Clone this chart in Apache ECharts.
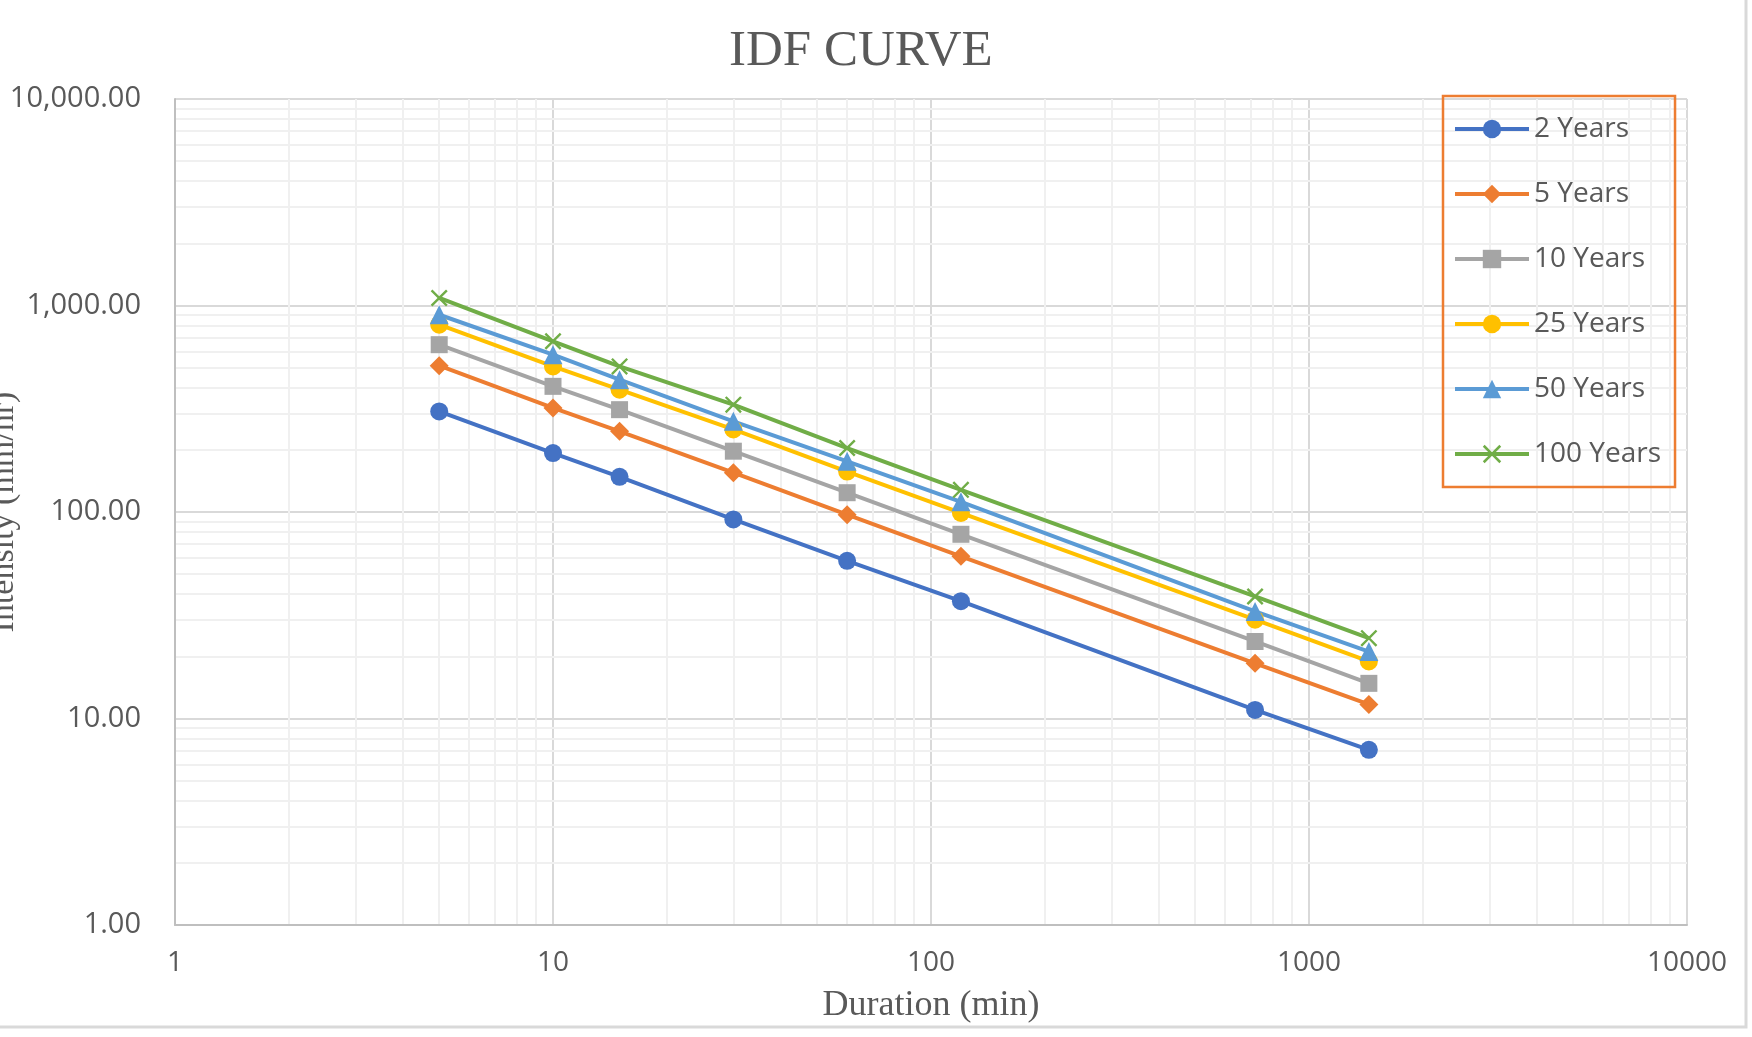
<!DOCTYPE html>
<html>
<head>
<meta charset="utf-8">
<script src="https://cdn.jsdelivr.net/npm/echarts@6/dist/echarts.min.js"></script>
<style>
  html, body { margin: 0; padding: 0; background: #fff; }
  #chart { width: 1752px; height: 1037px; }
</style>
</head>
<body>
<div id="chart"></div>
<script>
var durations = [5, 10, 15, 30, 60, 120, 720, 1440];
var years2 = [307, 193, 148, 92, 58, 37, 11.0, 7.05];
var years5 = [511, 319, 246, 155, 97, 61, 18.5, 11.7];
var years10 = [646, 406, 313, 197, 124, 78, 23.6, 14.8];
var years25 = [807, 507, 391, 251, 157, 99, 30.1, 18.9];
var years50 = [902, 578, 437, 275, 176, 112, 33, 21.1];
var years100 = [1088, 671, 507, 331, 204, 128, 39, 24.5];

var seriesNames = ["2 Years", "5 Years", "10 Years", "25 Years", "50 Years", "100 Years"];
var xTickLabels = ["1", "10", "100", "1000", "10000"];
var yTickLabels = ["1.00", "10.00", "100.00", "1,000.00", "10,000.00"];
var minorGrid = [2, 3, 4, 5, 6, 7, 8, 9, 20, 30, 40, 50, 60, 70, 80, 90,
  200, 300, 400, 500, 600, 700, 800, 900, 2000, 3000, 4000, 5000, 6000, 7000, 8000, 9000];

var colors = ["#4472C4", "#ED7D31", "#A5A5A5", "#FFC000", "#5B9BD5", "#70AD47"];
var crossPath = "path://M1,0L5,4L9,0L10,1L6,5L10,9L9,10L5,6L1,10L0,9L4,5L0,1Z";
var symbols = ["circle", "diamond", "rect", "circle", "triangle", crossPath];
var sizes = [18, 19, 17, 18, 19, 17];
var allValues = [years2, years5, years10, years25, years50, years100];

var myChart = echarts.init(document.getElementById("chart"));

function pairs(ys) {
  return durations.map(function (d, i) { return [d, ys[i]]; });
}

var series = [
  {
    name: "minor",
    type: "line",
    data: [],
    silent: true,
    z: 0,
    markLine: {
      silent: true,
      z: 0,
      symbol: ["none", "none"],
      label: { show: false },
      lineStyle: { color: "#F0F0F0", width: 2, type: "solid" },
      data: minorGrid.map(function (v) { return { xAxis: v }; })
        .concat(minorGrid.map(function (v) { return { yAxis: v }; })),
    },
  },
];

seriesNames.forEach(function (name, i) {
  series.push({
    name: name,
    type: "line",
    data: pairs(allValues[i]),
    symbol: symbols[i],
    symbolSize: sizes[i],
    showAllSymbol: true,
    z: 3,
    lineStyle: { color: colors[i], width: 4 },
    itemStyle: { color: colors[i] },
  });
});

var option = {
  animation: false,
  color: colors,
  title: {
    text: "IDF CURVE",
    left: 724,
    top: 21,
    textStyle: {
      fontFamily: "Liberation Serif",
      fontSize: 51,
      fontWeight: "normal",
      color: "#595959",
    },
  },
  legend: {
    data: seriesNames,
    orient: "vertical",
    left: 1443,
    top: 96,
    z: 6,
    padding: [19, 14, 19, 10],
    borderColor: "#ED7D31",
    borderWidth: 2.5,
    itemWidth: 74,
    itemHeight: 23,
    itemGap: 37,
    lineStyle: { width: 4 },
    textStyle: {
      fontFamily: "Open Sans",
      fontSize: 28,
      lineHeight: 28,
      color: "#595959",
    },
  },
  grid: {
    left: 175,
    right: 65,
    top: 99,
    bottom: 112,
    outerBoundsMode: "none",
  },
  xAxis: {
    type: "log",
    logBase: 10,
    min: 1,
    max: 10000,
    name: "Duration (min)",
    nameLocation: "middle",
    nameGap: 63,
    nameTextStyle: {
      fontFamily: "Liberation Serif",
      fontSize: 36,
      color: "#595959",
    },
    axisLine: { lineStyle: { color: "#BFBFBF", width: 2 } },
    axisTick: { show: false },
    axisLabel: {
      margin: 24,
      fontFamily: "Open Sans",
      fontSize: 28,
      color: "#595959",
      formatter: function (v, i) { return xTickLabels[i]; },
    },
    splitLine: { show: true, lineStyle: { color: "#D9D9D9", width: 2 } },
  },
  yAxis: {
    type: "log",
    logBase: 10,
    min: 1,
    max: 10000,
    name: "Intensity (mm/hr)",
    nameLocation: "middle",
    nameGap: 154,
    nameMoveOverlap: false,
    nameTextStyle: {
      fontFamily: "Liberation Serif",
      fontSize: 34,
      color: "#595959",
    },
    axisLine: { show: true, lineStyle: { color: "#BFBFBF", width: 2 } },
    axisTick: { show: false },
    axisLabel: {
      margin: 34,
      fontFamily: "Open Sans",
      fontSize: 29,
      color: "#595959",
      formatter: function (v, i) { return yTickLabels[i]; },
    },
    splitLine: { show: true, lineStyle: { color: "#D9D9D9", width: 2 } },
  },
  graphic: [
    {
      type: "rect",
      silent: true,
      shape: { x: -4, y: -4, width: 1750, height: 1031 },
      style: { fill: null, stroke: "#D9D9D9", lineWidth: 3 },
    },
  ],
  series: series,
};

myChart.setOption(option);
</script>
</body>
</html>
